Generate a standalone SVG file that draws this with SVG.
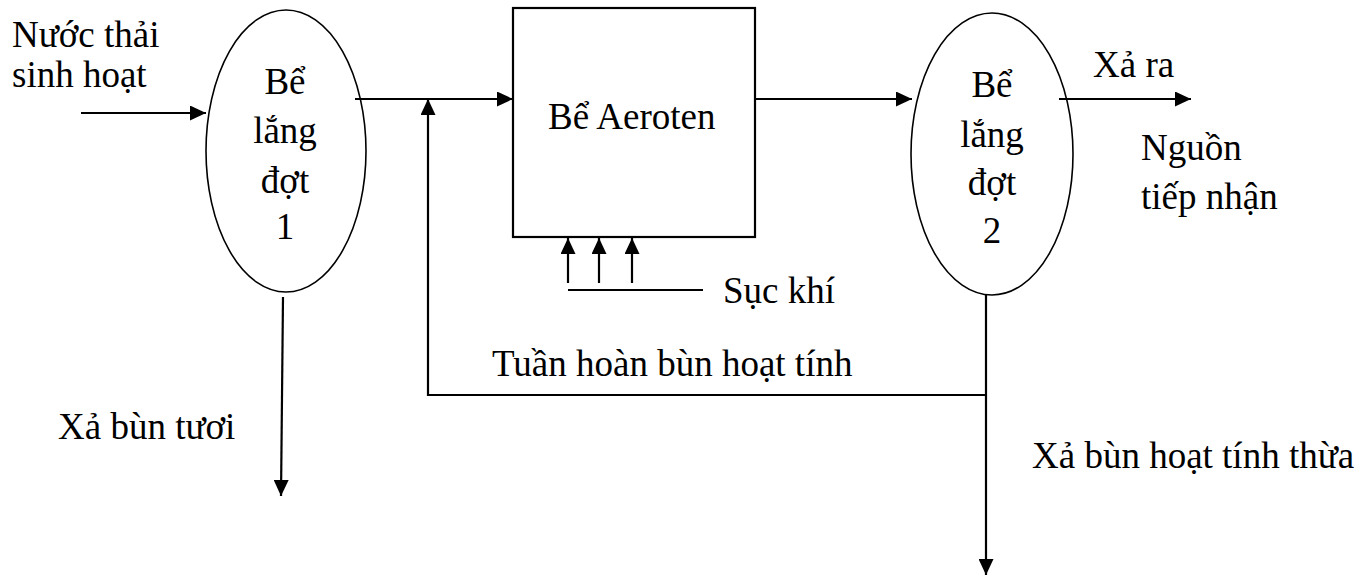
<svg xmlns="http://www.w3.org/2000/svg" width="1371" height="577" viewBox="0 0 1371 577">
  <style>
    text { font-family: "Liberation Serif", "Times New Roman", serif; font-size: 37px; fill: #000; }
    .mid { text-anchor: middle; }
    .shape { fill: #fff; stroke: #000; }
    .flow { fill: none; stroke: #000; stroke-width: 2.2; }
  </style>
  <defs>
    <marker id="arrow" viewBox="0 0 16 15" refX="16" refY="7.5" markerWidth="16" markerHeight="15" markerUnits="userSpaceOnUse" orient="auto">
      <path d="M0,0 L16,7.5 L0,15 Z" fill="#000"/>
    </marker>
  </defs>

  <rect width="1371" height="577" fill="#fff"/>

  <!-- primary settling tank -->
  <g id="settler1">
    <ellipse class="shape" cx="286" cy="151" rx="80" ry="141" stroke-width="1.6"/>
    <text class="mid" x="285" y="94">Bể</text>
    <text class="mid" x="285" y="143">lắng</text>
    <text class="mid" x="285" y="193">đợt</text>
    <text class="mid" x="285" y="239">1</text>
  </g>

  <!-- aeration tank -->
  <g id="aerotank">
    <rect class="shape" x="513" y="8" width="242" height="229" stroke-width="2.2"/>
    <text x="548" y="129">Bể Aeroten</text>
  </g>

  <!-- secondary settling tank -->
  <g id="settler2">
    <ellipse class="shape" cx="992" cy="154" rx="81" ry="141" stroke-width="1.6"/>
    <text class="mid" x="992" y="97">Bể</text>
    <text class="mid" x="992" y="147">lắng</text>
    <text class="mid" x="992" y="195">đợt</text>
    <text class="mid" x="992" y="243">2</text>
  </g>

  <!-- labels -->
  <g id="labels">
    <text x="12" y="47">Nước thải</text>
    <text x="12" y="87">sinh hoạt</text>
    <text x="1093" y="77">Xả ra</text>
    <text x="1141" y="160">Nguồn</text>
    <text x="1141" y="209">tiếp nhận</text>
    <text x="723" y="303">Sục khí</text>
    <text x="492" y="376">Tuần hoàn bùn hoạt tính</text>
    <text x="58" y="439">Xả bùn tươi</text>
    <text x="1032" y="468">Xả bùn hoạt tính thừa</text>
  </g>

  <!-- connectors -->
  <g id="connectors">
    <line class="flow" x1="81" y1="113" x2="206" y2="113" marker-end="url(#arrow)"/>
    <line class="flow" x1="355" y1="99" x2="513" y2="99" marker-end="url(#arrow)"/>
    <line class="flow" x1="755" y1="99" x2="912" y2="99" marker-end="url(#arrow)"/>
    <line class="flow" x1="1059" y1="99" x2="1191" y2="99" marker-end="url(#arrow)"/>
    <!-- air supply -->
    <line class="flow" x1="568" y1="290" x2="703" y2="290" stroke-width="3"/>
    <line class="flow" x1="568" y1="283" x2="568" y2="238" marker-end="url(#arrow)"/>
    <line class="flow" x1="599" y1="283" x2="599" y2="238" marker-end="url(#arrow)"/>
    <line class="flow" x1="632" y1="283" x2="632" y2="238" marker-end="url(#arrow)"/>
    <!-- fresh sludge discharge -->
    <line class="flow" x1="283" y1="297" x2="281" y2="496" marker-end="url(#arrow)"/>
    <!-- return activated sludge -->
    <polyline class="flow" points="986,395 428,395 428,99" marker-end="url(#arrow)"/>
    <!-- waste activated sludge -->
    <line class="flow" x1="986" y1="295" x2="986" y2="575" marker-end="url(#arrow)"/>
  </g>
</svg>
